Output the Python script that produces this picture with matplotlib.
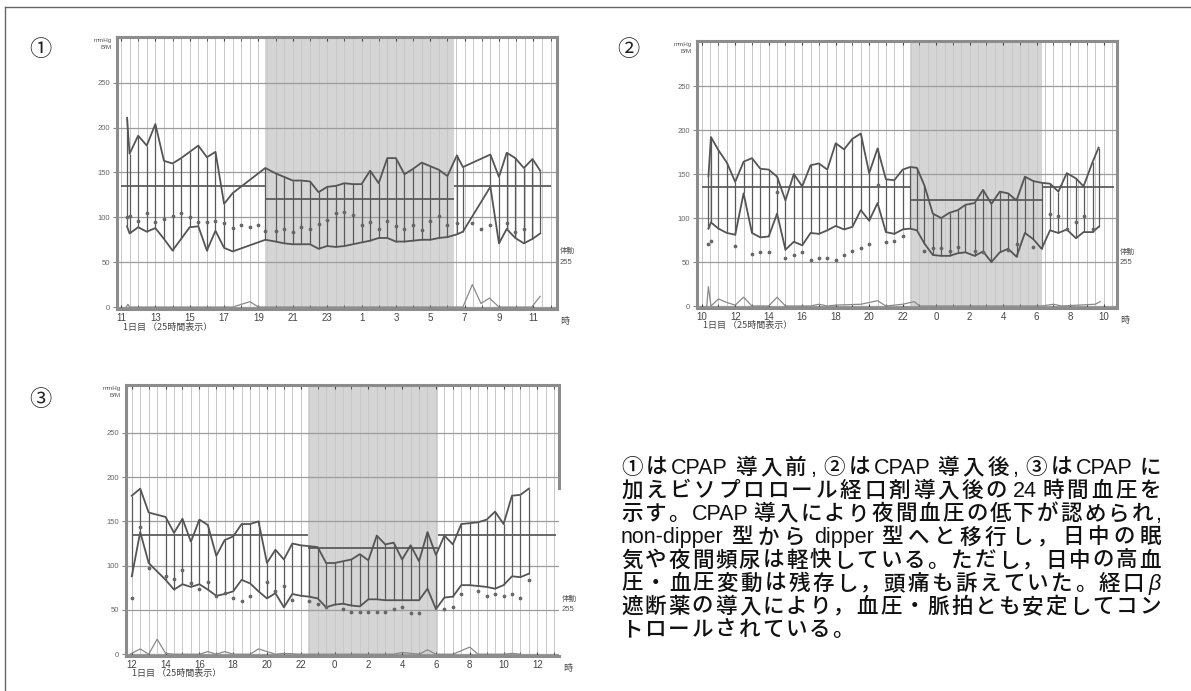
import matplotlib.pyplot as plt
import numpy as np
from matplotlib.lines import Line2D
from matplotlib.transforms import blended_transform_factory

W, H = 1191, 691
CJK = ['Noto Sans CJK JP', 'DejaVu Sans']
LAT = ['Liberation Sans', 'DejaVu Sans']
NUM = ['Liberation Sans Narrow', 'Liberation Sans', 'DejaVu Sans']

# ---------------- chart 1 (before CPAP) ----------------
t1 = [11.35, 11.5, 12.0, 12.5, 13.0, 13.5, 14.0, 14.5, 15.0, 15.5,
      16.0, 16.5, 17.0, 17.5, 19.4, 20.0, 20.5, 21.0, 21.5, 22.0,
      22.5, 23.0, 23.5, 24.0, 24.5, 25.0, 25.5, 26.0, 26.5, 27.0,
      27.5, 28.0, 28.5, 29.0, 29.5, 30.0, 30.55, 30.9, 32.5, 33.0,
      33.45, 33.95, 34.45, 34.95, 35.4]
sbp1 = [211, 171, 191, 180, 204, 163, 160, 166, 173, 180,
        167, 173, 115, 127, 155, 149, 145, 141, 141, 140,
        128, 134, 135, 138, 137, 137, 152, 138, 166, 166,
        148, 154, 161, 157, 153, 146, 169, 156, 170, 145,
        172, 166, 155, 165, 152]
dbp1 = [90, 82, 89, 84, 88, 76, 63, 76, 89, 90,
        63, 85, 66, 62, 75, 73, 71, 70, 70, 70,
        65, 68, 67, 68, 70, 72, 74, 77, 77, 73,
        73, 74, 75, 75, 77, 78, 81, 84, 134, 71,
        87, 77, 71, 76, 82]
hr1_t = [11.35, 11.5, 12.0, 12.5, 13.0, 13.5, 14.0, 14.5, 15.0, 15.5,
         16.0, 16.5, 17.0, 17.5, 18.0, 18.5, 19.0, 19.4, 20.0, 20.5,
         21.0, 21.5, 22.0, 22.5, 23.0, 23.5, 24.0, 24.5, 25.0, 25.5,
         26.0, 26.5, 27.0, 27.5, 28.0, 28.5, 29.0, 29.5, 30.0, 30.55,
         31.45, 31.95, 32.5, 33.45, 33.95, 34.45]
hr1 = [100, 102, 96, 105, 95, 98, 102, 105, 100, 95,
       95, 96, 94, 88, 92, 89, 92, 85, 85, 87,
       84, 89, 87, 93, 97, 105, 106, 103, 91, 95,
       87, 96, 90, 87, 92, 86, 96, 102, 92, 94,
       94, 87, 92, 94, 84, 87]
act1_t = [11.3, 11.4, 11.5, 17.5, 18.0, 18.5, 19.0, 30.9, 31.45, 31.95, 32.45, 33.0, 34.9, 35.4]
act1 = [0, 3, 0, 0, 3, 6, 0, 0, 25, 4, 10, 0, 0, 12]

# ---------------- chart 2 (after CPAP) ----------------
t2 = [10.4, 10.55, 11.0, 11.5, 12.0, 12.5, 13.0, 13.5, 14.0, 14.5,
      15.0, 15.5, 16.0, 16.5, 17.0, 17.5, 18.0, 18.5, 19.0, 19.5,
      20.0, 20.5, 21.0, 21.5, 22.0, 22.45, 22.85, 23.3, 23.8, 24.3,
      24.8, 25.3, 25.75, 26.3, 26.8, 27.3, 27.8, 28.3, 28.8, 29.3,
      29.8, 30.3, 30.8, 31.3, 31.8, 32.35, 32.8, 33.35, 33.7]
sbp2 = [147, 192, 177, 163, 141, 164, 168, 156, 155, 147,
        120, 150, 136, 160, 162, 155, 185, 178, 190, 196,
        151, 179, 144, 143, 155, 158, 157, 137, 105, 100,
        106, 109, 115, 117, 132, 116, 130, 128, 120, 147,
        142, 140, 139, 130, 151, 145, 136, 164, 180]
dbp2 = [88, 95, 88, 83, 81, 128, 83, 78, 79, 105,
        64, 73, 69, 83, 82, 86, 91, 87, 90, 109,
        97, 117, 84, 82, 87, 88, 86, 71, 58, 57,
        57, 60, 61, 57, 62, 50, 61, 65, 56, 83,
        76, 65, 86, 83, 87, 77, 84, 84, 90]
hr2_t = [10.35, 10.55, 12.0, 13.0, 13.5, 14.0, 14.5, 15.0, 15.5, 16.0,
         16.5, 17.0, 17.5, 18.0, 18.5, 19.0, 19.5, 20.0, 20.5, 21.0,
         21.5, 22.0, 23.3, 23.8, 24.3, 24.8, 25.3, 26.3, 26.8, 28.3,
         28.8, 29.8, 30.8, 31.3, 31.8, 32.35, 32.8, 33.35]
hr2 = [71, 74, 68, 59, 61, 61, 129, 54, 58, 61,
       52, 55, 54, 52, 58, 62, 66, 71, 137, 73,
       74, 80, 63, 66, 66, 63, 67, 62, 61, 64,
       71, 67, 105, 102, 87, 96, 102, 87]
act2_t = [10.3, 10.4, 10.55, 11.0, 11.5, 12.0, 12.5, 13.0, 14.0, 14.5,
          15.0, 16.5, 17.0, 17.5, 18.0, 19.5, 20.0, 20.5, 21.0, 22.0,
          22.7, 23.0, 30.3, 31.0, 31.5, 33.5, 33.8]
act2 = [0, 22, 0, 8, 4, 1, 10, 0, 0, 10,
        0, 0, 2, 0, 1, 2, 4, 6, 0, 2,
        5, 0, 0, 2, 0, 2, 5]

# ---------------- chart 3 (CPAP + bisoprolol) ----------------
t3 = [12.0, 12.5, 13.0, 14.0, 14.5, 15.0, 15.5, 16.0, 16.5, 17.0,
      17.5, 18.0, 18.5, 19.0, 19.5, 20.0, 20.5, 21.0, 21.5, 22.0,
      22.5, 23.0, 23.5, 24.0, 24.5, 25.0, 25.5, 26.0, 26.5, 27.0,
      27.5, 28.0, 28.5, 29.0, 29.5, 30.0, 30.5, 31.0, 31.5, 32.0,
      32.5, 33.0, 33.5, 34.0, 34.5, 35.0, 35.5]
sbp3 = [179, 187, 160, 155, 137, 153, 127, 152, 146, 111,
        129, 133, 147, 147, 150, 103, 118, 107, 125, 123,
        122, 121, 103, 103, 105, 107, 113, 106, 134, 124,
        126, 107, 123, 105, 138, 112, 134, 124, 147, 148,
        149, 152, 161, 147, 179, 180, 187]
dbp3 = [88, 138, 103, 84, 73, 79, 76, 79, 73, 66,
        68, 71, 84, 80, 71, 63, 69, 53, 68, 66,
        65, 63, 53, 56, 57, 55, 54, 62, 62, 61,
        61, 61, 61, 61, 74, 51, 64, 65, 78, 78,
        77, 76, 74, 78, 88, 87, 91]
hr3_t = [12.0, 12.5, 13.0, 14.0, 14.5, 15.0, 15.5, 16.0, 16.5, 17.0,
         17.5, 18.0, 18.5, 19.0, 20.0, 20.5, 21.0, 21.5, 22.5, 23.0,
         23.5, 24.5, 25.0, 25.5, 26.0, 26.5, 27.0, 27.5, 28.0, 28.5,
         29.0, 30.5, 31.0, 31.5, 32.5, 33.0, 33.5, 34.0, 34.5, 35.0, 35.5]
hr3 = [63, 144, 97, 88, 85, 95, 80, 74, 81, 66,
       69, 64, 60, 66, 82, 71, 77, 61, 60, 57,
       53, 51, 48, 48, 48, 48, 48, 51, 53, 47,
       47, 51, 53, 68, 71, 66, 68, 66, 68, 63, 84]
act3_t = [11.9, 12.0, 12.5, 13.0, 13.5, 14.0, 14.5, 16.0, 16.5, 17.0,
          17.5, 18.0, 19.0, 19.5, 20.0, 20.5, 21.0, 22.0, 27.5, 28.0,
          28.5, 29.0, 29.5, 30.0, 31.0, 31.5, 32.0, 32.5, 34.0, 34.5, 35.0]
act3 = [0, 1, 6, 0, 17, 1, 0, 0, 3, 0,
        3, 0, 0, 6, 3, 0, 1, 0, 0, 2,
        1, 0, 5, 0, 0, 4, 8, 0, 0, 1, 0]

# text block
caption = [
    "①はCPAP 導入前, ②はCPAP 導入後, ③はCPAP に",
    "加えビソプロロール経口剤導入後の 24 時間血圧を",
    "示す。CPAP 導入により夜間血圧の低下が認められ,",
    "non-dipper 型から dipper 型へと移行し，日中の眠",
    "気や夜間頻尿は軽快している。ただし，日中の高血",
    "圧・血圧変動は残存し，頭痛も訴えていた。経口 β",
    "遮断薬の導入により，血圧・脈拍とも安定してコン",
    "トロールされている。",
]

fig = plt.figure(figsize=(W / 100, H / 100), dpi=100)
fig.patch.set_facecolor('white')


def px_axes(left, top, right, bottom):
    return fig.add_axes([left / W, 1 - bottom / H, (right - left) / W, (bottom - top) / H])


def draw_chart(ax, t, sbp, dbp, hr_t, hr, act_t, act, night, refs, xlim, ylim, first_hour):
    ax.set_xlim(*xlim)
    ax.set_ylim(*ylim)
    ax.axvspan(night[0], night[1], color='#d5d5d5', lw=0, zorder=0)
    for h in np.arange(np.ceil(xlim[0] * 2) / 2, xlim[1], 0.5):
        ax.axvline(h, color='#c8c8c8', lw=0.7, zorder=1)
    for v in range(0, 300, 50):
        ax.axhline(v, color='#9c9c9c', lw=0.9, zorder=1)
    for level, a, b in refs:
        ax.hlines(level, a, b, color='#505050', lw=1.2, zorder=2)
    ax.plot(act_t, act, color='#8a8a8a', lw=0.9, zorder=3)
    ax.vlines(t, dbp, sbp, color='#5a5a5a', lw=0.9, zorder=3)
    ax.plot(t, sbp, color='#555555', lw=1.3, zorder=4)
    ax.plot(t, dbp, color='#555555', lw=1.3, zorder=4)
    ax.plot(hr_t, hr, 'o', ms=1.7, color='#666666', zorder=5)

    major = list(range(first_hour, int(xlim[1]) + 1, 2))
    ax.set_xticks(major)
    ax.set_xticklabels([str(h % 24) for h in major], family=NUM, fontsize=7, color='#444444')
    ax.set_xticks(range(int(np.ceil(xlim[0])), int(xlim[1]) + 1), minor=True)
    ax.tick_params(axis='x', which='both', direction='in', top=True, bottom=True,
                   length=3, color='#444444', pad=3)
    ax.set_yticks(range(0, 300, 50))
    ax.set_yticklabels([str(v) for v in range(0, 300, 50)], family=NUM, fontsize=5.5, color='#666666')
    ax.tick_params(axis='y', direction='out', length=3, color='#888888', pad=2)
    for s in ax.spines.values():
        s.set_color('#8c8c8c')
        s.set_linewidth(2.2)

    ax.text(-0.012, 0.995, 'mmHg', transform=ax.transAxes, ha='right', va='top',
            fontsize=4.5, color='#555555', family=NUM)
    ax.text(-0.012, 0.97, 'B/M', transform=ax.transAxes, ha='right', va='top',
            fontsize=4.5, color='#555555', family=NUM)
    tr = blended_transform_factory(ax.transAxes, ax.transData)
    ax.text(1.006, 62, '体動', transform=tr, ha='left', va='center', fontsize=5.5,
            color='#555555', family=CJK)
    ax.text(1.006, 50, '255', transform=tr, ha='left', va='center', fontsize=5.5,
            color='#555555', family=NUM)
    ax.text(1.008, -0.03, '時', transform=ax.transAxes, ha='left', va='top', fontsize=6.5,
            color='#444444', family=CJK)
    ax.text(0.014, -0.065, '1日目 （25時間表示）', transform=ax.transAxes, ha='left', va='center',
            fontsize=6.5, color='#444444', family=CJK)


ax1 = px_axes(116.7, 37, 556.7, 309.3)
draw_chart(ax1, t1, sbp1, dbp1, hr1_t, hr1, act1_t, act1, (19.4, 30.4),
           [(135, 11.0, 19.4), (120, 19.4, 30.4), (135, 30.4, 36.0)],
           (10.75, 36.36), (-2.5, 301), 11)

ax2 = px_axes(696.7, 40.7, 1117, 308.3)
draw_chart(ax2, t2, sbp2, dbp2, hr2_t, hr2, act2_t, act2, (22.45, 30.3),
           [(135, 10.0, 22.45), (120, 22.45, 30.3), (135, 30.3, 34.6)],
           (9.7, 34.8), (-2.6, 301.5), 10)

ax3 = px_axes(125.7, 385, 559.3, 656)
draw_chart(ax3, t3, sbp3, dbp3, hr3_t, hr3, act3_t, act3, (22.4, 30.15),
           [(135, 12.0, 22.4), (120, 22.4, 30.1), (135, 30.1, 37.1)],
           (11.64, 37.3), (-2, 304), 12)
ax3.spines['right'].set_bounds(187.7, 304)

# panel numbers
for s, x, y in [('①', 40, 50), ('②', 628, 50), ('③', 40, 400)]:
    fig.text(x / W, 1 - y / H, s, fontsize=16, ha='center', va='center', family=CJK, color='#222222')

# outer frame
fig.add_artist(Line2D([5 / W, 5 / W], [0, 1 - 7 / H], transform=fig.transFigure, color='#666666', lw=1))
fig.add_artist(Line2D([5 / W, 1], [1 - 7 / H, 1 - 7 / H], transform=fig.transFigure, color='#666666', lw=1))

# justified caption text
FS = 15.5
renderer = fig.canvas.get_renderer()


def tokens_of(line):
    toks, word = [], ''
    for ch in line:
        if ch.isascii() and ch != ' ':
            word += ch
            continue
        if word:
            toks.append(word)
            word = ''
        toks.append(ch)
    if word:
        toks.append(word)
    return toks


def tok_font(tok):
    if tok == 'β':
        return dict(family=LAT, style='italic', weight='normal')
    if tok.isascii():
        return dict(family=LAT, style='normal', weight='normal')
    return dict(family=CJK, style='normal', weight='medium')


def tok_width(tok):
    if tok == ' ':
        return 0.0
    tt = fig.text(0, 0, tok, fontsize=FS, **tok_font(tok))
    w = tt.get_window_extent(renderer).width
    tt.remove()
    return w


x_left, x_right = 621, 1161
for i, line in enumerate(caption):
    toks = tokens_of(line)
    widths = [tok_width(tk) for tk in toks]
    if i < len(caption) - 1:
        gap = (x_right - x_left - sum(widths)) / (len(toks) - 1)
    else:
        gap = 2.0
    base = 474 + 23.15 * i
    x = x_left
    for tk, w in zip(toks, widths):
        if tk != ' ':
            fig.text(x / W, 1 - base / H, tk, fontsize=FS, ha='left', va='baseline',
                     color='#111111', **tok_font(tk))
        x += w + gap

fig.savefig('out.png', dpi=100, facecolor='white')
